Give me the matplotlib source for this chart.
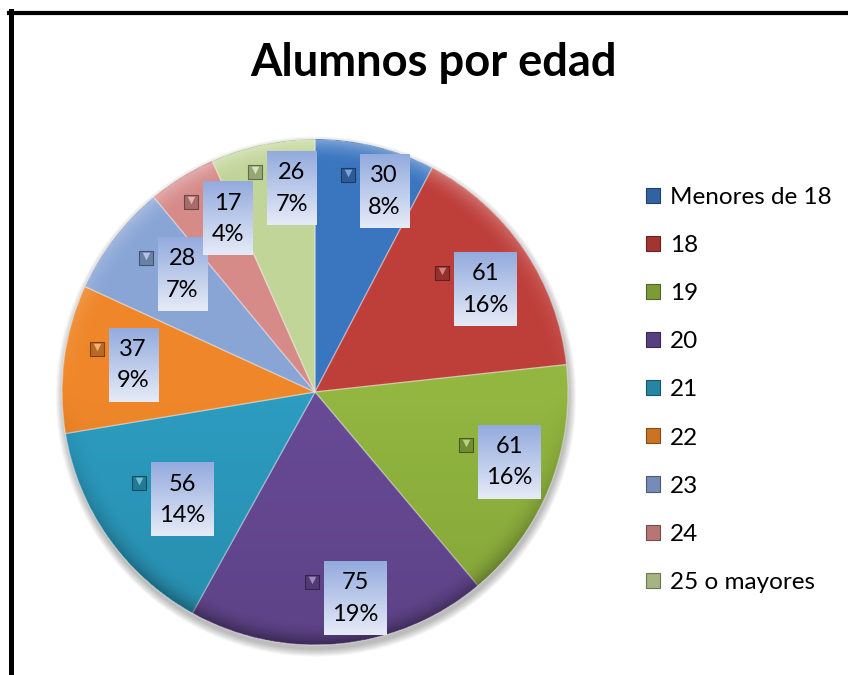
import numpy as np
import matplotlib.pyplot as plt
from matplotlib.lines import Line2D
from matplotlib.patches import Circle
from matplotlib.colors import to_rgb

# -------- datos --------
categorias = ["Menores de 18", "18", "19", "20", "21", "22", "23", "24", "25 o mayores"]
alumnos = [30, 61, 61, 75, 56, 37, 28, 17, 26]
titulo = "Alumnos por edad"

colores = ["#3A75C0", "#BE3E3A", "#92B640", "#684A96", "#2C9CC0",
           "#EF872A", "#88A5D6", "#D68B89", "#C1D598"]
# distancia radial de cada etiqueta (fraccion del radio)
radio_etiqueta = [0.815, 0.72, 0.743, 0.82, 0.739, 0.805, 0.762, 0.805, 0.823]

plt.rcParams['font.family'] = ['Lato', 'DejaVu Sans']

W, H = 848, 675
R = 253.0            # radio en pixeles
CX, CY = 315, 392    # centro (pixeles desde arriba)


def tono(c, f):
    return tuple(np.clip(np.array(to_rgb(c)) * f, 0, 1))


def aclarar(c, f):
    a = np.array(to_rgb(c))
    return tuple(a + (1 - a) * f)


fig = plt.figure(figsize=(W / 100, H / 100), dpi=100)
ax = fig.add_axes([0, 0, 1, 1])
xlim = (-CX / R, (W - CX) / R)
ylim = (-(H - CY) / R, CY / R)
ax.set_xlim(*xlim)
ax.set_ylim(*ylim)
ax.axis("off")

px = 1.0 / R

# sombra suave
for k in range(8):
    ax.add_patch(Circle((0.004, -0.018), 1.0 + k * 0.004, color="black",
                        alpha=0.035, lw=0, zorder=0))

wedges, _ = ax.pie(alumnos, colors=colores, startangle=90, counterclock=False,
                   radius=1.0, center=(0, 0), frame=True,
                   wedgeprops=dict(edgecolor=(1, 1, 1, 0.35), linewidth=1.0))
for w in wedges:
    w.set_zorder(1)

# efecto de bisel sobre el pie
n = 600
yy, xx = np.mgrid[1:-1:n * 1j, -1:1:n * 1j]
rr = np.hypot(xx, yy)
rim = np.clip((rr - 0.9) / 0.1, 0, 1) ** 2
shade = np.zeros((n, n, 4))
light = yy > 0
shade[..., :3] = np.where(light[..., None], 1.0, 0.0)
shade[..., 3] = rim * np.where(light, 0.35 * yy, 0.35 * (-yy))
shade[..., 3] += np.where(yy < 0, 0.10 * (-yy), 0.0)
shade[rr > 1] = 0
im = ax.imshow(shade, extent=[-1, 1, -1, 1], zorder=2, aspect="auto",
               interpolation="bilinear")
im.set_clip_path(Circle((0, 0), 1.0, transform=ax.transData))

total = sum(alumnos)
textos = []
for w, v, r in zip(wedges, alumnos, radio_etiqueta):
    ang = np.deg2rad((w.theta1 + w.theta2) / 2)
    x = r * np.cos(ang) + 20 * px
    y = r * np.sin(ang)
    t = ax.text(x, y, f"{v}\n{round(100 * v / total)}%", ha="center", va="center",
                fontsize=17, linespacing=1.62, zorder=5,
                bbox=dict(boxstyle="square,pad=0.35", fc="#C5D0EE", ec="none"))
    textos.append(t)

fig.canvas.draw()
renderer = fig.canvas.get_renderer()
inv = ax.transData.inverted()
grad = np.linspace(0, 1, 64)[:, None]
top = np.array([0.58, 0.67, 0.87])
bot = np.array([0.90, 0.92, 0.97])
grad_img = top[None, None, :] * (1 - grad[..., None]) + bot[None, None, :] * grad[..., None]
for t, c in zip(textos, colores):
    patch = t.get_bbox_patch()
    ext = patch.get_window_extent(renderer)
    (x0, y0), (x1, y1) = inv.transform([(ext.x0, ext.y0), (ext.x1, ext.y1)])
    y0 -= 2 * px
    y1 += 2 * px
    ax.imshow(grad_img, extent=[x0, x1, y0, y1], zorder=4, aspect="auto",
              interpolation="bilinear")
    patch.set_facecolor("none")
    mx, my = x0 - 12 * px, y1 - 20 * px
    ax.scatter([mx], [my], marker="s", s=115, c=[tono(c, 0.78)],
               edgecolors=[tono(c, 0.5)], linewidths=0.8, zorder=5)
    ax.scatter([mx], [my + 2 * px], marker="v", s=30, c=[aclarar(c, 0.35)],
               linewidths=0, zorder=6)

ax.set_xlim(*xlim)
ax.set_ylim(*ylim)

fig.text(434 / W, 1 - 63 / H, titulo, ha="center", va="center",
         fontsize=32.6, fontweight="bold")

leg = fig.legend(handles=wedges, labels=categorias, loc="upper left",
                 bbox_to_anchor=(646 / W, 1 - 187 / H), frameon=False,
                 fontsize=17.5, handlelength=0.58, handleheight=0.58,
                 handletextpad=0.42, labelspacing=1.115, borderpad=0, borderaxespad=0)
for h, c in zip(leg.legend_handles, colores):
    h.set_facecolor(tono(c, 0.85))
    h.set_edgecolor(tono(c, 0.55))
    h.set_linewidth(0.8)

fig.add_artist(Line2D([11 / W, 11 / W], [0, 1 - 10.5 / H], color="black", lw=3.6))
fig.add_artist(Line2D([9 / W, 1], [1 - 12.5 / H, 1 - 12.5 / H], color="black", lw=3.0))

fig.savefig("out.png", dpi=100)
